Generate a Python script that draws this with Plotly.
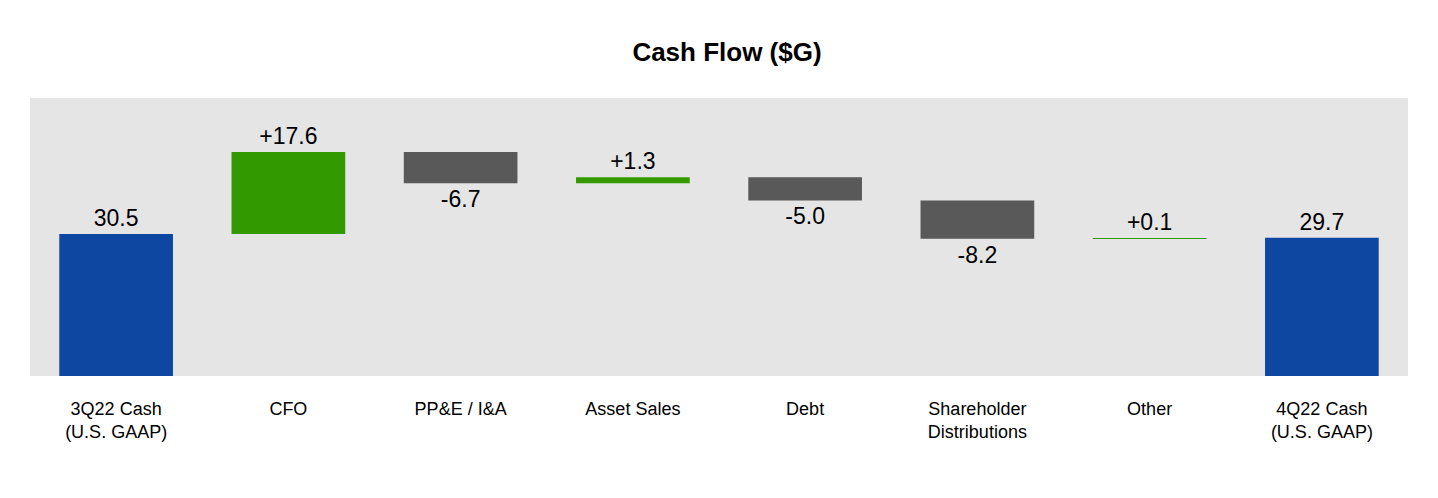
import plotly.graph_objects as go

categories = ["3Q22 Cash<br>(U.S. GAAP)", "CFO", "PP&E / I&A", "Asset Sales", "Debt",
              "Shareholder<br>Distributions", "Other", "4Q22 Cash<br>(U.S. GAAP)"]
values = [30.5, 17.6, -6.7, 1.3, -5.0, -8.2, 0.1, 29.7]
measures = ["absolute", "relative", "relative", "relative", "relative", "relative", "relative", "absolute"]
labels = ["30.5", "+17.6", "-6.7", "+1.3", "-5.0", "-8.2", "+0.1", "29.7"]

fig = go.Figure(go.Waterfall(
    x=categories, y=values, measure=measures,
    text=labels, textposition="outside", cliponaxis=False,
    textfont=dict(size=23, color="black"),
    increasing=dict(marker=dict(color="#339900")),
    decreasing=dict(marker=dict(color="#595959")),
    totals=dict(marker=dict(color="#0D47A1")),
    connector=dict(visible=False),
    width=0.66,
))
fig.update_layout(
    width=1438, height=498,
    title=dict(text="<b>Cash Flow ($G)</b>", x=0.5, y=0.93, xanchor="center",
               font=dict(size=26, color="black")),
    font=dict(family="Liberation Sans, Arial", color="black", size=18),
    plot_bgcolor="#E5E5E5", paper_bgcolor="white",
    margin=dict(l=22, r=38, t=90, b=130),
    showlegend=False,
    yaxis=dict(range=[0, 59.7], visible=False),
    xaxis=dict(showgrid=False, tickfont=dict(size=18), ticks="outside",
               ticklen=16, tickcolor="rgba(0,0,0,0)"),
)
fig.write_html("out.html")
